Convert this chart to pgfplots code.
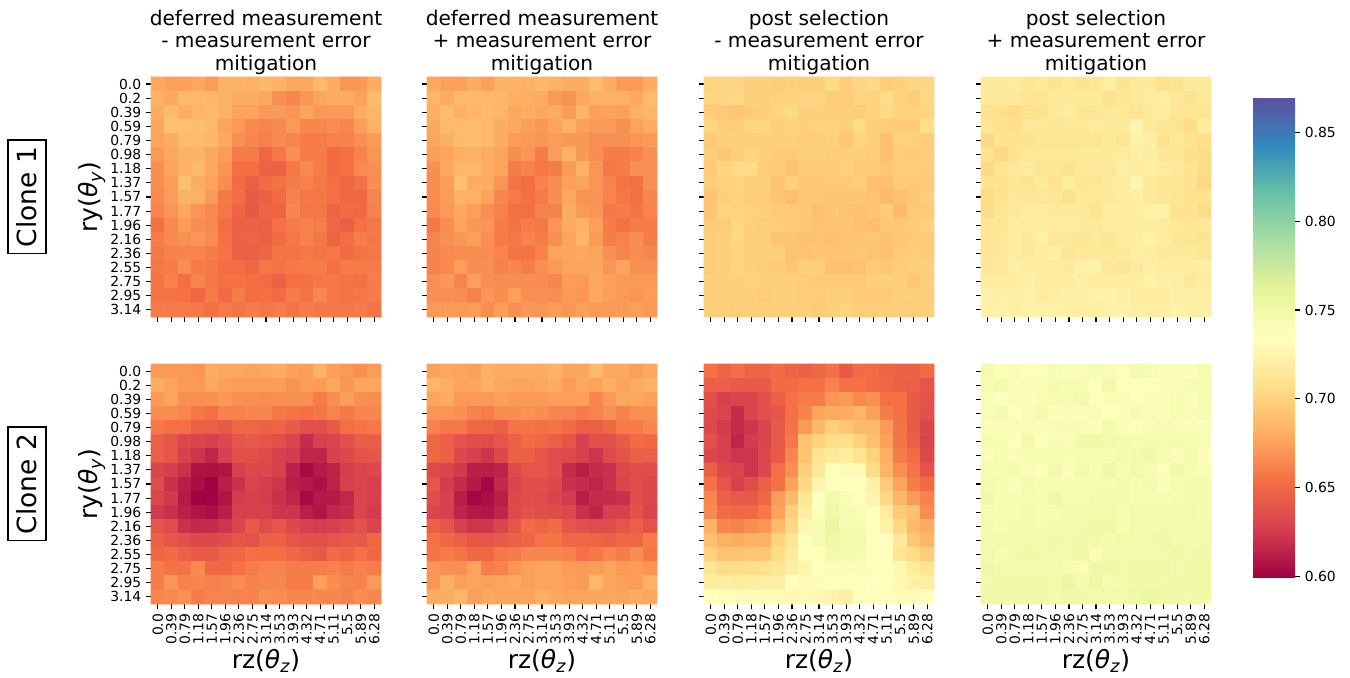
\documentclass[border=0pt]{standalone}
\usepackage{fontspec}
\setmainfont{DejaVu Sans}
\usepackage{pgfplots}
\usepackage{pgfplotstable}
\pgfplotsset{compat=1.18}

\pgfplotstableread[row sep=\\]{
z\\
0.678\\0.675\\0.675\\0.678\\0.673\\0.683\\0.683\\0.682\\0.685\\0.683\\0.678\\0.678\\0.687\\0.680\\0.670\\0.672\\0.680\\
0.683\\0.678\\0.687\\0.687\\0.685\\0.683\\0.680\\0.680\\0.678\\0.668\\0.664\\0.670\\0.677\\0.680\\0.680\\0.675\\0.688\\
0.680\\0.688\\0.680\\0.684\\0.687\\0.682\\0.676\\0.676\\0.672\\0.672\\0.670\\0.677\\0.671\\0.672\\0.672\\0.680\\0.685\\
0.677\\0.690\\0.690\\0.689\\0.686\\0.676\\0.672\\0.665\\0.663\\0.665\\0.672\\0.664\\0.664\\0.666\\0.664\\0.674\\0.683\\
0.676\\0.680\\0.688\\0.688\\0.685\\0.678\\0.668\\0.664\\0.661\\0.665\\0.663\\0.660\\0.660\\0.662\\0.662\\0.668\\0.672\\
0.672\\0.678\\0.682\\0.683\\0.678\\0.673\\0.660\\0.660\\0.650\\0.658\\0.668\\0.660\\0.660\\0.652\\0.655\\0.662\\0.670\\
0.668\\0.677\\0.683\\0.686\\0.678\\0.670\\0.654\\0.653\\0.647\\0.646\\0.658\\0.665\\0.660\\0.652\\0.655\\0.665\\0.668\\
0.666\\0.673\\0.690\\0.680\\0.676\\0.666\\0.652\\0.645\\0.652\\0.655\\0.660\\0.662\\0.658\\0.653\\0.650\\0.655\\0.667\\
0.665\\0.673\\0.683\\0.682\\0.672\\0.658\\0.653\\0.643\\0.645\\0.652\\0.662\\0.658\\0.657\\0.654\\0.650\\0.650\\0.663\\
0.663\\0.670\\0.678\\0.670\\0.665\\0.657\\0.648\\0.641\\0.648\\0.648\\0.664\\0.657\\0.657\\0.648\\0.652\\0.651\\0.662\\
0.655\\0.665\\0.673\\0.667\\0.665\\0.653\\0.646\\0.647\\0.645\\0.655\\0.660\\0.662\\0.660\\0.650\\0.645\\0.655\\0.657\\
0.660\\0.665\\0.668\\0.670\\0.666\\0.655\\0.647\\0.648\\0.645\\0.652\\0.658\\0.662\\0.657\\0.648\\0.653\\0.660\\0.657\\
0.658\\0.662\\0.663\\0.663\\0.660\\0.656\\0.646\\0.645\\0.648\\0.656\\0.656\\0.658\\0.656\\0.658\\0.652\\0.656\\0.657\\
0.657\\0.660\\0.667\\0.659\\0.658\\0.653\\0.653\\0.649\\0.657\\0.656\\0.658\\0.659\\0.660\\0.655\\0.660\\0.659\\0.659\\
0.656\\0.661\\0.654\\0.663\\0.658\\0.655\\0.655\\0.653\\0.652\\0.647\\0.655\\0.655\\0.658\\0.658\\0.656\\0.655\\0.660\\
0.656\\0.656\\0.655\\0.650\\0.659\\0.652\\0.660\\0.653\\0.654\\0.652\\0.660\\0.656\\0.664\\0.657\\0.656\\0.657\\0.660\\
0.659\\0.659\\0.659\\0.658\\0.654\\0.659\\0.656\\0.660\\0.657\\0.660\\0.656\\0.660\\0.658\\0.658\\0.657\\0.659\\0.656\\
}\dataA

\pgfplotstableread[row sep=\\]{
z\\
0.678\\0.675\\0.675\\0.680\\0.675\\0.683\\0.683\\0.682\\0.685\\0.683\\0.680\\0.680\\0.688\\0.680\\0.672\\0.672\\0.680\\
0.684\\0.680\\0.687\\0.687\\0.686\\0.684\\0.681\\0.681\\0.680\\0.672\\0.669\\0.678\\0.682\\0.682\\0.682\\0.678\\0.688\\
0.681\\0.688\\0.682\\0.684\\0.687\\0.684\\0.678\\0.680\\0.677\\0.679\\0.673\\0.684\\0.675\\0.676\\0.675\\0.682\\0.685\\
0.678\\0.688\\0.688\\0.688\\0.686\\0.680\\0.678\\0.674\\0.671\\0.676\\0.683\\0.675\\0.672\\0.672\\0.668\\0.676\\0.680\\
0.677\\0.681\\0.687\\0.688\\0.686\\0.680\\0.673\\0.672\\0.670\\0.673\\0.671\\0.671\\0.668\\0.668\\0.668\\0.670\\0.672\\
0.673\\0.676\\0.681\\0.682\\0.680\\0.676\\0.667\\0.670\\0.660\\0.673\\0.682\\0.671\\0.667\\0.660\\0.660\\0.662\\0.668\\
0.668\\0.678\\0.684\\0.686\\0.680\\0.676\\0.660\\0.662\\0.658\\0.660\\0.672\\0.682\\0.670\\0.658\\0.660\\0.668\\0.668\\
0.666\\0.673\\0.690\\0.680\\0.680\\0.670\\0.656\\0.653\\0.662\\0.667\\0.675\\0.676\\0.670\\0.662\\0.656\\0.655\\0.668\\
0.666\\0.673\\0.682\\0.682\\0.676\\0.664\\0.659\\0.654\\0.659\\0.667\\0.678\\0.669\\0.669\\0.663\\0.657\\0.655\\0.664\\
0.665\\0.672\\0.678\\0.674\\0.668\\0.662\\0.654\\0.654\\0.662\\0.662\\0.680\\0.672\\0.670\\0.658\\0.660\\0.656\\0.663\\
0.658\\0.667\\0.676\\0.671\\0.670\\0.660\\0.656\\0.660\\0.658\\0.670\\0.679\\0.682\\0.674\\0.660\\0.655\\0.660\\0.660\\
0.662\\0.668\\0.671\\0.674\\0.668\\0.659\\0.657\\0.662\\0.660\\0.668\\0.676\\0.684\\0.672\\0.660\\0.662\\0.667\\0.660\\
0.662\\0.665\\0.666\\0.667\\0.666\\0.663\\0.656\\0.656\\0.662\\0.676\\0.676\\0.678\\0.676\\0.668\\0.663\\0.666\\0.664\\
0.662\\0.665\\0.674\\0.667\\0.667\\0.662\\0.664\\0.660\\0.668\\0.672\\0.676\\0.677\\0.677\\0.670\\0.676\\0.668\\0.668\\
0.668\\0.671\\0.663\\0.674\\0.668\\0.666\\0.666\\0.667\\0.666\\0.664\\0.673\\0.672\\0.678\\0.675\\0.672\\0.672\\0.672\\
0.668\\0.668\\0.666\\0.662\\0.670\\0.666\\0.674\\0.668\\0.668\\0.666\\0.672\\0.670\\0.678\\0.674\\0.672\\0.670\\0.673\\
0.672\\0.672\\0.672\\0.673\\0.666\\0.674\\0.668\\0.672\\0.670\\0.673\\0.670\\0.674\\0.672\\0.672\\0.672\\0.674\\0.672\\
}\dataB

\pgfplotstableread[row sep=\\]{
z\\
0.701\\0.702\\0.702\\0.699\\0.699\\0.697\\0.698\\0.697\\0.698\\0.705\\0.697\\0.702\\0.704\\0.697\\0.699\\0.702\\0.702\\
0.702\\0.702\\0.703\\0.699\\0.699\\0.700\\0.700\\0.702\\0.702\\0.697\\0.697\\0.702\\0.700\\0.705\\0.700\\0.697\\0.703\\
0.697\\0.695\\0.694\\0.696\\0.698\\0.701\\0.704\\0.698\\0.699\\0.699\\0.699\\0.697\\0.700\\0.704\\0.700\\0.700\\0.701\\
0.702\\0.699\\0.697\\0.702\\0.702\\0.698\\0.700\\0.698\\0.700\\0.700\\0.698\\0.706\\0.698\\0.697\\0.696\\0.696\\0.707\\
0.695\\0.699\\0.699\\0.698\\0.698\\0.698\\0.698\\0.697\\0.697\\0.699\\0.694\\0.701\\0.699\\0.690\\0.700\\0.698\\0.697\\
0.698\\0.694\\0.699\\0.701\\0.698\\0.696\\0.696\\0.698\\0.698\\0.697\\0.698\\0.698\\0.697\\0.690\\0.697\\0.696\\0.697\\
0.695\\0.701\\0.705\\0.705\\0.697\\0.696\\0.691\\0.696\\0.695\\0.696\\0.700\\0.695\\0.696\\0.694\\0.697\\0.697\\0.697\\
0.697\\0.700\\0.701\\0.698\\0.699\\0.693\\0.698\\0.694\\0.694\\0.695\\0.695\\0.699\\0.690\\0.690\\0.695\\0.695\\0.695\\
0.693\\0.699\\0.700\\0.697\\0.697\\0.693\\0.689\\0.694\\0.694\\0.693\\0.693\\0.693\\0.692\\0.687\\0.691\\0.694\\0.698\\
0.693\\0.701\\0.701\\0.700\\0.699\\0.695\\0.695\\0.694\\0.690\\0.694\\0.692\\0.691\\0.693\\0.696\\0.688\\0.695\\0.696\\
0.696\\0.697\\0.703\\0.699\\0.697\\0.697\\0.695\\0.694\\0.692\\0.693\\0.693\\0.690\\0.689\\0.694\\0.694\\0.695\\0.700\\
0.697\\0.699\\0.703\\0.698\\0.699\\0.693\\0.693\\0.691\\0.692\\0.689\\0.693\\0.693\\0.694\\0.691\\0.694\\0.696\\0.696\\
0.697\\0.699\\0.701\\0.698\\0.698\\0.698\\0.692\\0.692\\0.693\\0.693\\0.693\\0.694\\0.692\\0.690\\0.695\\0.697\\0.696\\
0.697\\0.698\\0.702\\0.698\\0.697\\0.696\\0.693\\0.698\\0.698\\0.691\\0.690\\0.692\\0.695\\0.694\\0.697\\0.698\\0.699\\
0.699\\0.699\\0.699\\0.700\\0.698\\0.698\\0.698\\0.697\\0.696\\0.695\\0.695\\0.695\\0.698\\0.698\\0.698\\0.694\\0.698\\
0.699\\0.699\\0.699\\0.699\\0.697\\0.698\\0.698\\0.697\\0.697\\0.698\\0.698\\0.695\\0.695\\0.695\\0.698\\0.698\\0.698\\
0.699\\0.699\\0.697\\0.699\\0.699\\0.698\\0.698\\0.698\\0.696\\0.699\\0.701\\0.697\\0.697\\0.698\\0.699\\0.697\\0.699\\
}\dataC

\pgfplotstableread[row sep=\\]{
z\\
0.716\\0.716\\0.717\\0.713\\0.715\\0.711\\0.715\\0.711\\0.713\\0.720\\0.711\\0.715\\0.716\\0.709\\0.711\\0.716\\0.716\\
0.715\\0.715\\0.715\\0.713\\0.712\\0.716\\0.715\\0.716\\0.716\\0.711\\0.713\\0.715\\0.717\\0.720\\0.714\\0.711\\0.715\\
0.709\\0.707\\0.705\\0.708\\0.711\\0.715\\0.718\\0.712\\0.713\\0.714\\0.715\\0.712\\0.716\\0.718\\0.713\\0.713\\0.712\\
0.712\\0.710\\0.707\\0.714\\0.714\\0.713\\0.714\\0.714\\0.717\\0.716\\0.716\\0.726\\0.716\\0.713\\0.711\\0.706\\0.718\\
0.704\\0.710\\0.710\\0.710\\0.712\\0.712\\0.712\\0.712\\0.712\\0.715\\0.712\\0.722\\0.720\\0.710\\0.715\\0.710\\0.707\\
0.710\\0.703\\0.710\\0.714\\0.714\\0.714\\0.714\\0.716\\0.716\\0.715\\0.717\\0.721\\0.719\\0.714\\0.713\\0.707\\0.706\\
0.704\\0.712\\0.714\\0.717\\0.712\\0.712\\0.710\\0.714\\0.714\\0.714\\0.720\\0.719\\0.721\\0.717\\0.714\\0.710\\0.706\\
0.710\\0.710\\0.712\\0.711\\0.716\\0.710\\0.718\\0.713\\0.713\\0.716\\0.717\\0.725\\0.716\\0.713\\0.713\\0.710\\0.703\\
0.705\\0.710\\0.714\\0.713\\0.714\\0.713\\0.708\\0.715\\0.714\\0.715\\0.718\\0.720\\0.716\\0.713\\0.712\\0.709\\0.710\\
0.706\\0.712\\0.714\\0.717\\0.717\\0.716\\0.716\\0.716\\0.711\\0.718\\0.718\\0.718\\0.722\\0.722\\0.711\\0.711\\0.706\\
0.712\\0.712\\0.717\\0.717\\0.717\\0.717\\0.717\\0.716\\0.716\\0.718\\0.718\\0.718\\0.719\\0.717\\0.715\\0.713\\0.714\\
0.712\\0.714\\0.718\\0.716\\0.722\\0.714\\0.714\\0.713\\0.715\\0.713\\0.718\\0.719\\0.723\\0.718\\0.713\\0.712\\0.711\\
0.713\\0.714\\0.719\\0.716\\0.719\\0.721\\0.713\\0.715\\0.715\\0.715\\0.716\\0.720\\0.718\\0.715\\0.716\\0.716\\0.713\\
0.714\\0.714\\0.720\\0.719\\0.718\\0.717\\0.716\\0.722\\0.722\\0.714\\0.713\\0.716\\0.720\\0.718\\0.719\\0.718\\0.720\\
0.718\\0.718\\0.718\\0.721\\0.719\\0.719\\0.718\\0.720\\0.719\\0.719\\0.719\\0.718\\0.723\\0.721\\0.720\\0.715\\0.718\\
0.722\\0.721\\0.721\\0.722\\0.717\\0.720\\0.721\\0.721\\0.722\\0.723\\0.721\\0.719\\0.719\\0.719\\0.721\\0.720\\0.721\\
0.722\\0.722\\0.721\\0.723\\0.723\\0.722\\0.721\\0.721\\0.720\\0.722\\0.724\\0.720\\0.720\\0.720\\0.723\\0.721\\0.721\\
}\dataD

\pgfplotstableread[row sep=\\]{
z\\
0.672\\0.672\\0.672\\0.670\\0.680\\0.678\\0.678\\0.676\\0.678\\0.680\\0.674\\0.673\\0.682\\0.674\\0.672\\0.668\\0.673\\
0.680\\0.676\\0.672\\0.672\\0.678\\0.675\\0.673\\0.673\\0.673\\0.673\\0.669\\0.673\\0.673\\0.678\\0.671\\0.677\\0.678\\
0.672\\0.676\\0.668\\0.668\\0.668\\0.671\\0.668\\0.668\\0.666\\0.668\\0.668\\0.668\\0.660\\0.667\\0.673\\0.668\\0.667\\
0.666\\0.666\\0.664\\0.657\\0.654\\0.662\\0.662\\0.664\\0.664\\0.657\\0.656\\0.654\\0.657\\0.663\\0.658\\0.663\\0.664\\
0.658\\0.654\\0.654\\0.645\\0.645\\0.642\\0.650\\0.650\\0.647\\0.648\\0.643\\0.637\\0.637\\0.643\\0.654\\0.656\\0.658\\
0.645\\0.640\\0.632\\0.630\\0.628\\0.632\\0.640\\0.643\\0.640\\0.637\\0.630\\0.618\\0.628\\0.630\\0.637\\0.644\\0.644\\
0.645\\0.640\\0.627\\0.622\\0.615\\0.627\\0.637\\0.637\\0.633\\0.628\\0.625\\0.615\\0.615\\0.627\\0.632\\0.638\\0.640\\
0.630\\0.626\\0.620\\0.607\\0.606\\0.608\\0.628\\0.632\\0.632\\0.628\\0.613\\0.603\\0.610\\0.614\\0.626\\0.630\\0.632\\
0.635\\0.620\\0.612\\0.605\\0.600\\0.612\\0.620\\0.630\\0.626\\0.622\\0.612\\0.610\\0.606\\0.614\\0.628\\0.630\\0.628\\
0.631\\0.624\\0.610\\0.600\\0.601\\0.608\\0.625\\0.628\\0.625\\0.620\\0.615\\0.603\\0.610\\0.610\\0.616\\0.630\\0.628\\
0.624\\0.620\\0.613\\0.608\\0.605\\0.612\\0.628\\0.628\\0.628\\0.622\\0.622\\0.612\\0.608\\0.616\\0.618\\0.630\\0.625\\
0.640\\0.634\\0.620\\0.617\\0.618\\0.622\\0.630\\0.642\\0.635\\0.640\\0.632\\0.627\\0.625\\0.627\\0.632\\0.638\\0.630\\
0.646\\0.640\\0.637\\0.632\\0.632\\0.635\\0.640\\0.638\\0.646\\0.646\\0.640\\0.637\\0.637\\0.640\\0.642\\0.642\\0.650\\
0.650\\0.652\\0.647\\0.643\\0.643\\0.648\\0.650\\0.655\\0.653\\0.653\\0.650\\0.645\\0.642\\0.652\\0.648\\0.655\\0.650\\
0.660\\0.656\\0.656\\0.665\\0.650\\0.650\\0.655\\0.660\\0.663\\0.663\\0.660\\0.660\\0.660\\0.662\\0.659\\0.662\\0.660\\
0.660\\0.670\\0.662\\0.664\\0.661\\0.663\\0.666\\0.662\\0.664\\0.664\\0.660\\0.660\\0.674\\0.666\\0.663\\0.662\\0.672\\
0.664\\0.665\\0.668\\0.660\\0.663\\0.663\\0.662\\0.662\\0.668\\0.666\\0.664\\0.664\\0.664\\0.664\\0.662\\0.666\\0.664\\
}\dataE

\pgfplotstableread[row sep=\\]{
z\\
0.675\\0.678\\0.676\\0.674\\0.682\\0.680\\0.680\\0.680\\0.680\\0.683\\0.677\\0.677\\0.687\\0.678\\0.678\\0.674\\0.678\\
0.684\\0.681\\0.677\\0.677\\0.682\\0.678\\0.677\\0.677\\0.678\\0.680\\0.673\\0.678\\0.676\\0.681\\0.676\\0.680\\0.682\\
0.676\\0.680\\0.672\\0.672\\0.672\\0.674\\0.672\\0.672\\0.672\\0.674\\0.674\\0.674\\0.664\\0.672\\0.678\\0.678\\0.675\\
0.670\\0.670\\0.668\\0.662\\0.660\\0.667\\0.667\\0.669\\0.667\\0.664\\0.663\\0.660\\0.663\\0.668\\0.662\\0.668\\0.668\\
0.662\\0.658\\0.658\\0.650\\0.650\\0.646\\0.656\\0.656\\0.654\\0.656\\0.652\\0.645\\0.645\\0.650\\0.660\\0.660\\0.664\\
0.650\\0.645\\0.638\\0.636\\0.635\\0.640\\0.646\\0.652\\0.650\\0.645\\0.640\\0.628\\0.637\\0.637\\0.643\\0.652\\0.650\\
0.650\\0.645\\0.632\\0.628\\0.622\\0.632\\0.645\\0.645\\0.640\\0.635\\0.633\\0.628\\0.622\\0.633\\0.638\\0.645\\0.645\\
0.633\\0.630\\0.624\\0.612\\0.612\\0.614\\0.633\\0.640\\0.640\\0.636\\0.618\\0.612\\0.618\\0.620\\0.632\\0.635\\0.635\\
0.640\\0.625\\0.618\\0.610\\0.602\\0.617\\0.630\\0.636\\0.636\\0.632\\0.620\\0.618\\0.615\\0.620\\0.630\\0.635\\0.632\\
0.635\\0.628\\0.612\\0.602\\0.605\\0.612\\0.632\\0.636\\0.634\\0.630\\0.625\\0.612\\0.618\\0.618\\0.620\\0.634\\0.632\\
0.630\\0.627\\0.615\\0.610\\0.608\\0.615\\0.633\\0.638\\0.636\\0.635\\0.632\\0.620\\0.615\\0.628\\0.628\\0.638\\0.630\\
0.645\\0.640\\0.627\\0.622\\0.623\\0.630\\0.640\\0.652\\0.648\\0.652\\0.640\\0.637\\0.635\\0.635\\0.640\\0.645\\0.638\\
0.655\\0.650\\0.645\\0.640\\0.640\\0.643\\0.646\\0.648\\0.656\\0.656\\0.650\\0.650\\0.648\\0.646\\0.650\\0.650\\0.660\\
0.656\\0.660\\0.656\\0.650\\0.650\\0.657\\0.660\\0.664\\0.664\\0.664\\0.662\\0.655\\0.658\\0.664\\0.660\\0.667\\0.657\\
0.670\\0.668\\0.668\\0.676\\0.660\\0.662\\0.670\\0.674\\0.676\\0.676\\0.673\\0.672\\0.673\\0.676\\0.672\\0.673\\0.670\\
0.670\\0.682\\0.674\\0.676\\0.675\\0.676\\0.678\\0.674\\0.676\\0.676\\0.674\\0.672\\0.686\\0.676\\0.674\\0.673\\0.682\\
0.680\\0.680\\0.684\\0.674\\0.678\\0.676\\0.676\\0.676\\0.682\\0.678\\0.676\\0.676\\0.677\\0.678\\0.676\\0.680\\0.678\\
}\dataF

\pgfplotstableread[row sep=\\]{
z\\
0.655\\0.648\\0.653\\0.648\\0.648\\0.652\\0.648\\0.645\\0.650\\0.655\\0.642\\0.652\\0.652\\0.648\\0.647\\0.647\\0.652\\
0.645\\0.645\\0.642\\0.642\\0.642\\0.652\\0.652\\0.655\\0.655\\0.662\\0.655\\0.655\\0.652\\0.650\\0.647\\0.645\\0.640\\
0.637\\0.628\\0.630\\0.630\\0.637\\0.645\\0.655\\0.660\\0.660\\0.670\\0.672\\0.665\\0.668\\0.655\\0.655\\0.642\\0.638\\
0.633\\0.630\\0.618\\0.630\\0.637\\0.640\\0.655\\0.662\\0.677\\0.679\\0.680\\0.684\\0.675\\0.660\\0.655\\0.643\\0.637\\
0.632\\0.625\\0.618\\0.622\\0.630\\0.643\\0.656\\0.672\\0.685\\0.698\\0.694\\0.687\\0.687\\0.672\\0.656\\0.643\\0.630\\
0.637\\0.627\\0.615\\0.625\\0.630\\0.643\\0.658\\0.692\\0.700\\0.707\\0.707\\0.700\\0.690\\0.675\\0.656\\0.645\\0.630\\
0.630\\0.627\\0.622\\0.622\\0.632\\0.643\\0.664\\0.692\\0.710\\0.716\\0.718\\0.712\\0.700\\0.681\\0.660\\0.652\\0.632\\
0.645\\0.632\\0.630\\0.622\\0.632\\0.654\\0.668\\0.698\\0.715\\0.737\\0.730\\0.730\\0.706\\0.684\\0.668\\0.656\\0.638\\
0.655\\0.640\\0.628\\0.635\\0.645\\0.655\\0.676\\0.703\\0.725\\0.736\\0.734\\0.734\\0.722\\0.695\\0.677\\0.660\\0.652\\
0.664\\0.645\\0.642\\0.642\\0.650\\0.673\\0.688\\0.712\\0.736\\0.748\\0.742\\0.738\\0.725\\0.703\\0.685\\0.672\\0.662\\
0.665\\0.652\\0.650\\0.650\\0.658\\0.676\\0.698\\0.718\\0.738\\0.750\\0.745\\0.742\\0.733\\0.718\\0.695\\0.690\\0.666\\
0.683\\0.664\\0.662\\0.667\\0.670\\0.688\\0.703\\0.727\\0.745\\0.755\\0.745\\0.745\\0.736\\0.723\\0.703\\0.686\\0.680\\
0.690\\0.682\\0.680\\0.682\\0.683\\0.700\\0.712\\0.738\\0.745\\0.750\\0.748\\0.747\\0.738\\0.733\\0.716\\0.694\\0.685\\
0.700\\0.692\\0.692\\0.694\\0.694\\0.706\\0.716\\0.738\\0.738\\0.747\\0.746\\0.745\\0.737\\0.736\\0.712\\0.706\\0.697\\
0.713\\0.706\\0.706\\0.707\\0.708\\0.713\\0.720\\0.726\\0.735\\0.742\\0.740\\0.742\\0.738\\0.735\\0.728\\0.717\\0.712\\
0.718\\0.718\\0.717\\0.718\\0.720\\0.720\\0.735\\0.730\\0.732\\0.735\\0.733\\0.737\\0.735\\0.736\\0.728\\0.722\\0.720\\
0.735\\0.733\\0.732\\0.732\\0.732\\0.730\\0.728\\0.730\\0.728\\0.725\\0.720\\0.733\\0.734\\0.733\\0.732\\0.731\\0.736\\
}\dataG

\pgfplotstableread[row sep=\\]{
z\\
0.748\\0.738\\0.742\\0.738\\0.738\\0.744\\0.740\\0.740\\0.744\\0.742\\0.737\\0.746\\0.744\\0.740\\0.740\\0.740\\0.745\\
0.745\\0.748\\0.742\\0.742\\0.742\\0.746\\0.743\\0.745\\0.737\\0.748\\0.737\\0.737\\0.737\\0.740\\0.741\\0.744\\0.745\\
0.742\\0.737\\0.740\\0.739\\0.742\\0.744\\0.745\\0.747\\0.737\\0.741\\0.742\\0.737\\0.742\\0.740\\0.743\\0.740\\0.745\\
0.742\\0.746\\0.737\\0.742\\0.746\\0.740\\0.742\\0.740\\0.742\\0.738\\0.739\\0.745\\0.742\\0.740\\0.744\\0.742\\0.745\\
0.740\\0.742\\0.740\\0.742\\0.739\\0.742\\0.743\\0.742\\0.739\\0.747\\0.741\\0.738\\0.742\\0.744\\0.742\\0.741\\0.741\\
0.744\\0.744\\0.738\\0.747\\0.738\\0.744\\0.742\\0.749\\0.749\\0.747\\0.746\\0.745\\0.746\\0.745\\0.746\\0.744\\0.742\\
0.739\\0.743\\0.742\\0.743\\0.743\\0.743\\0.743\\0.745\\0.745\\0.745\\0.746\\0.747\\0.750\\0.743\\0.740\\0.747\\0.739\\
0.745\\0.743\\0.748\\0.742\\0.738\\0.747\\0.740\\0.748\\0.743\\0.750\\0.743\\0.747\\0.743\\0.738\\0.749\\0.745\\0.741\\
0.746\\0.745\\0.739\\0.746\\0.744\\0.743\\0.743\\0.744\\0.745\\0.745\\0.746\\0.743\\0.746\\0.739\\0.745\\0.746\\0.746\\
0.750\\0.743\\0.744\\0.745\\0.745\\0.750\\0.743\\0.743\\0.746\\0.746\\0.746\\0.744\\0.745\\0.744\\0.745\\0.746\\0.746\\
0.745\\0.743\\0.745\\0.746\\0.745\\0.745\\0.746\\0.746\\0.747\\0.748\\0.744\\0.747\\0.747\\0.747\\0.748\\0.747\\0.746\\
0.746\\0.744\\0.746\\0.746\\0.745\\0.746\\0.747\\0.747\\0.750\\0.752\\0.744\\0.748\\0.746\\0.748\\0.747\\0.746\\0.747\\
0.747\\0.747\\0.748\\0.748\\0.747\\0.749\\0.747\\0.749\\0.747\\0.746\\0.748\\0.748\\0.748\\0.749\\0.748\\0.746\\0.747\\
0.747\\0.743\\0.748\\0.749\\0.747\\0.747\\0.747\\0.750\\0.741\\0.747\\0.747\\0.748\\0.748\\0.747\\0.750\\0.747\\0.749\\
0.750\\0.748\\0.748\\0.747\\0.747\\0.747\\0.743\\0.742\\0.750\\0.750\\0.747\\0.750\\0.750\\0.750\\0.748\\0.749\\0.749\\
0.747\\0.751\\0.752\\0.750\\0.750\\0.747\\0.753\\0.746\\0.750\\0.745\\0.748\\0.749\\0.749\\0.747\\0.749\\0.749\\0.749\\
0.750\\0.749\\0.749\\0.749\\0.750\\0.748\\0.749\\0.749\\0.748\\0.748\\0.747\\0.752\\0.754\\0.750\\0.749\\0.747\\0.749\\
}\dataH

\pgfplotsset{
  colormap={spectral}{rgb255(0)=(158,1,66) rgb255(1)=(213,62,79) rgb255(2)=(244,109,67)
    rgb255(3)=(253,174,97) rgb255(4)=(254,224,139) rgb255(5)=(255,255,191)
    rgb255(6)=(230,245,152) rgb255(7)=(171,221,164) rgb255(8)=(102,194,165)
    rgb255(9)=(50,136,189) rgb255(10)=(94,79,162)},
  hm/.style={
    width=165.6pt, height=172.8pt, scale only axis,
    xmin=-0.5, xmax=16.5, ymin=-0.5, ymax=16.5,
    enlargelimits=false, clip=false,
    axis line style={draw=none},
    tick align=outside, xtick pos=bottom, ytick pos=left,
    major tick length=3.5pt,
    tick style={black, line width=0.8pt},
    xtick={0,...,16}, ytick={0,...,16},
    xticklabels={},
    yticklabels={},
    ticklabel style={font=\fontsize{10}{12}\selectfont},
    colormap name=spectral,
    point meta min=0.599, point meta max=0.870,
    title style={font=\fontsize{14.5}{16.4}\selectfont, align=center,
      at={(0.5,1)}, anchor=south, inner sep=0pt, yshift=-4.6pt},
    every axis y label/.style={at={(axis description cs:-0.2565,0.5)},
      rotate=90, anchor=center, font=\fontsize{18}{21}\selectfont},
    every axis x label/.style={at={(axis description cs:0.5,-0.237)},
      anchor=center, font=\fontsize{18}{21}\selectfont},
  },
  ylab/.style={
    yticklabels={3.14,2.95,2.75,2.55,2.36,2.16,1.96,1.77,1.57,1.37,1.18,0.98,0.79,0.59,0.39,0.2,0.0},
    ylabel={ry(\textit{θ}\textsubscript{\textit{y}})},
  },
  xlab/.style={
    xticklabels={0.0,0.39,0.79,1.18,1.57,1.96,2.36,2.75,3.14,3.53,3.93,4.32,4.71,5.11,5.5,5.89,6.28},
    xticklabel style={rotate=90, anchor=east},
    xlabel={rz(\textit{θ}\textsubscript{\textit{z}})},
  },
}

\newcommand{\hmplot}[1]{\addplot[matrix plot*, mesh/cols=17, point meta=explicit]
  table[x index=0, y index=0, meta index=0,
    x expr={\coordindex-17*int((\coordindex+0.5)/17)},
    y expr={16-int((\coordindex+0.5)/17)}] {#1};}

\begin{document}
\begin{tikzpicture}
\useasboundingbox (0,0) rectangle (972pt,487.44pt);

\begin{axis}[hm, ylab, name=r1c1, at={(108.72pt,259.2pt)}, anchor=south west,
  title={deferred measurement\\- measurement error\\mitigation}]
\hmplot{\dataA}
\end{axis}
\begin{axis}[hm, name=r1c2, at={(307.44pt,259.2pt)}, anchor=south west,
  title={deferred measurement\\+ measurement error\\mitigation}]
\hmplot{\dataB}
\end{axis}
\begin{axis}[hm, name=r1c3, at={(506.88pt,259.2pt)}, anchor=south west,
  title={post selection\\- measurement error\\mitigation}]
\hmplot{\dataC}
\end{axis}
\begin{axis}[hm, name=r1c4, at={(706.32pt,259.2pt)}, anchor=south west,
  title={post selection\\+ measurement error\\mitigation},
  colorbar shift/.style={xshift=0pt},
  colorbar/width=30.24pt,
  colorbar,
  colorbar style={
    at={(parent axis.north east)}, anchor=north west,
    xshift=30.24pt, yshift=-14.4pt,
    width=30.24pt, height=346.32pt, scale only axis,
    ytick={0.6,0.65,0.7,0.75,0.8,0.85},
    yticklabel style={font=\fontsize{10}{12}\selectfont,
      /pgf/number format/.cd, fixed, fixed zerofill, precision=2, assume math mode=true},
    axis line style={draw=none},
    tick align=outside, ytick pos=right, major tick length=3.5pt,
    tick style={black, line width=0.8pt},
  }]
\hmplot{\dataD}
\end{axis}

\begin{axis}[hm, ylab, xlab, name=r2c1, at={(108.72pt,52.56pt)}, anchor=south west]
\hmplot{\dataE}
\end{axis}
\begin{axis}[hm, xlab, name=r2c2, at={(307.44pt,52.56pt)}, anchor=south west]
\hmplot{\dataF}
\end{axis}
\begin{axis}[hm, xlab, name=r2c3, at={(506.88pt,52.56pt)}, anchor=south west]
\hmplot{\dataG}
\end{axis}
\begin{axis}[hm, xlab, name=r2c4, at={(706.32pt,52.56pt)}, anchor=south west]
\hmplot{\dataH}
\end{axis}

\node[draw=black, line width=0.8pt, rotate=90, inner sep=0pt,
  minimum width=82pt, minimum height=27.4pt, font=\fontsize{19}{22}\selectfont]
  at ([xshift=-89.3pt]r1c1.west) {Clone 1};
\node[draw=black, line width=0.8pt, rotate=90, inner sep=0pt,
  minimum width=82pt, minimum height=27.4pt, font=\fontsize{19}{22}\selectfont]
  at ([xshift=-89.3pt]r2c1.west) {Clone 2};
\end{tikzpicture}
\end{document}
